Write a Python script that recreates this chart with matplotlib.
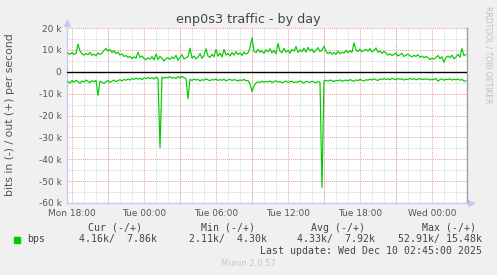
import numpy as np
import matplotlib.pyplot as plt
from matplotlib.ticker import MultipleLocator, FixedLocator

# samples every 10 min, first one at Mon 17:40 (hours since Mon 00:00)
t_start = 17 + 40 / 60.0
t_step = 1 / 6.0

# out (+) in kbit/s
bps_out = [
    8.5, 8.0, 8.8, 7.9, 8.3, 12.6, 9.5, 8.2, 7.6, 8.4,
    7.8, 8.9, 7.5, 8.1, 7.2, 8.6, 7.9, 8.4, 9.8, 10.6,
    9.4, 10.2, 8.7, 9.6, 8.3, 9.0, 7.6, 8.2, 7.0, 7.4,
    6.5, 7.1, 6.0, 6.8, 6.2, 9.0, 6.6, 7.2, 6.0, 5.5,
    6.3, 5.8, 6.9, 5.4, 8.0, 5.6, 7.0, 6.2, 5.0, 5.9,
    6.4, 5.6, 6.8, 6.0, 7.5, 5.3, 6.5, 7.8, 5.8, 6.4,
    6.8, 10.8, 6.2, 7.2, 5.9, 6.6, 8.3, 6.1, 7.4, 10.5,
    7.2, 6.5, 8.0, 6.8, 10.3, 7.1, 8.5, 6.7, 10.2, 7.6,
    8.4, 7.2, 8.8, 7.6, 9.2, 7.9, 8.6, 7.4, 9.0, 8.1,
    8.6, 11.0, 15.48, 9.4, 8.7, 10.2, 8.9, 9.6, 8.4, 10.0,
    9.1, 10.5, 8.6, 9.8, 8.2, 13.0, 9.3, 8.7, 10.6, 9.0,
    9.8, 8.5, 10.2, 9.4, 11.5, 8.8, 10.0, 9.2, 10.8, 8.9,
    11.2, 9.5, 10.4, 8.8, 9.9, 11.0, 9.3, 9.8, 11.6, 9.4,
    8.3, 9.1, 8.0, 8.8, 7.9, 9.4, 8.2, 9.0, 8.5, 9.8,
    8.7, 9.6, 8.9, 13.2, 10.0, 9.2, 10.4, 9.1, 9.8, 10.2,
    9.4, 10.6, 9.0, 9.7, 10.9, 8.8, 9.5, 8.4, 9.3, 8.6,
    7.6, 8.2, 7.4, 7.9, 8.6, 7.2, 7.8, 8.4, 7.0, 7.6,
    8.1, 7.3, 6.8, 7.5, 7.0, 7.8, 6.6, 7.2, 6.4, 7.0,
    6.5, 5.6, 6.2, 5.8, 6.6, 7.4, 6.0, 6.8, 4.3, 6.5,
    7.2, 6.4, 7.6, 5.9, 6.7, 8.0, 6.6, 10.6, 7.4, 7.86,
]

# in (-) in kbit/s, drawn below zero
bps_in = [
    4.5, 5.2, 4.0, 4.8, 3.9, 4.6, 5.3, 4.2, 4.7, 3.8,
    4.4, 5.0, 4.1, 4.6, 3.9, 10.8, 4.3, 4.8, 5.4, 4.6,
    4.0, 4.9, 4.3, 3.8, 4.5, 4.1, 3.6, 4.2, 3.5, 3.9,
    3.3, 3.8, 3.1, 3.5, 2.9, 3.4, 3.0, 3.6, 2.8, 3.2,
    2.6, 3.1, 2.7, 3.3, 2.5, 2.9, 34.7, 2.4, 3.0, 2.5,
    2.8, 2.3, 2.9, 2.6, 3.1, 2.2, 2.8, 2.11, 2.7, 3.2,
    12.3, 3.4, 4.0, 3.3, 3.8, 3.5, 4.2, 3.6, 3.9, 3.2,
    3.7, 4.1, 3.5, 3.8, 3.3, 4.0, 3.6, 3.9, 3.4, 4.2,
    3.7, 3.5, 4.0, 3.6, 3.8, 4.3, 3.7, 4.0, 3.5, 4.1,
    4.0, 5.5, 9.0, 6.5, 5.2, 4.6, 4.9, 4.3, 4.8, 4.4,
    4.7, 4.2, 5.0, 4.5, 4.1, 4.8, 4.4, 5.1, 4.6, 4.2,
    4.9, 4.5, 4.3, 5.0, 4.6, 4.8, 4.2, 4.7, 5.2, 4.4,
    4.6, 4.9, 4.3, 4.7, 5.0, 4.5, 4.8, 52.91, 4.2, 3.9,
    4.3, 3.8, 4.1, 4.5, 3.9, 4.2, 3.7, 4.4, 4.0, 3.8,
    4.2, 3.6, 4.0, 4.4, 3.7, 4.1, 3.5, 3.9, 4.3, 3.6,
    3.9, 3.4, 3.8, 3.2, 3.7, 4.0, 3.3, 3.6, 3.1, 3.5,
    3.2, 3.7, 3.0, 3.4, 3.6, 3.1, 3.5, 3.2, 3.8, 3.3,
    3.6, 3.0, 3.5, 3.2, 3.7, 3.4, 3.1, 3.6, 3.3, 3.5,
    3.2, 3.8, 3.4, 3.6, 3.1, 4.4, 3.5, 3.3, 3.9, 3.4,
    3.6, 3.2, 3.8, 3.4, 3.7, 3.3, 3.9, 3.5, 4.3, 4.16,
]

xtick_hours = [18, 24, 30, 36, 42, 48]
xtick_labels = ["Mon 18:00", "Tue 00:00", "Tue 06:00", "Tue 12:00", "Tue 18:00", "Wed 00:00"]
ytick_vals = [20, 10, 0, -10, -20, -30, -40, -50, -60]

headers = ["Cur (-/+)", "Min (-/+)", "Avg (-/+)", "Max (-/+)"]
values = ["4.16k/  7.86k", "2.11k/  4.30k", "4.33k/  7.92k", "52.91k/ 15.48k"]

t = t_start + t_step * np.arange(len(bps_out))
out_arr = np.array(bps_out)
in_arr = -np.array(bps_in)

W, H = 497, 275
fig = plt.figure(figsize=(W / 100, H / 100), dpi=100, facecolor="#F0F0F0")
ax = fig.add_axes([67 / W, (H - 203) / H, 400 / W, 175 / H])
ax.set_facecolor("white")

green = "#00CC00"
ax.plot(t, out_arr, color=green, lw=0.85, zorder=3)
ax.plot(t, in_arr, color=green, lw=0.85, zorder=3)
ax.axhline(0, color="black", lw=1.0, zorder=4)

ax.set_xlim(17 + 35 / 60.0, 17 + 35 / 60.0 + 400 / 12.0)
ax.set_ylim(-60, 20)

# grid: red dotted majors, grey dotted minors
ax.xaxis.set_major_locator(FixedLocator(xtick_hours))
ax.set_xticklabels(xtick_labels)
ax.set_yticks(ytick_vals)
ax.set_yticklabels([("%d k" % v) if v != 0 else "0" for v in ytick_vals])
ax.xaxis.set_minor_locator(MultipleLocator(1))
ax.yaxis.set_minor_locator(MultipleLocator(5))
ax.grid(True, which="minor", color="#CFCFCF", lw=0.6, ls=(0, (1, 1)), zorder=0)
for h in np.arange(15, 54, 3):
    ax.axvline(h, color="#E8A0A0", lw=0.7, ls=(0, (1, 1)), zorder=1)
for v in ytick_vals:
    if v != 0:
        ax.axhline(v, color="#E8A0A0", lw=0.7, ls=(0, (1, 1)), zorder=1)
ax.set_axisbelow(True)

ax.tick_params(which="both", length=0, labelsize=6.5, labelcolor="#555555", pad=4)

ax.spines["top"].set_visible(False)
ax.spines["left"].set_color("#C8C8F0")
ax.spines["bottom"].set_color("#C8C8F0")
ax.spines["right"].set_color("#A0A0A0")
for s in ["left", "bottom", "right"]:
    ax.spines[s].set_linewidth(1.0)

# axis arrows
ax.annotate("", xy=(0, 1.04), xytext=(0, 1.0), xycoords="axes fraction",
            arrowprops=dict(arrowstyle="-", color="#C8C8F0", lw=1.0))
ax.plot([0], [1.03], marker="^", color="#C8C8F0", ms=4, transform=ax.transAxes, clip_on=False)
ax.plot([1.01], [0], marker=">", color="#C8C8F0", ms=4, transform=ax.transAxes, clip_on=False)

fig.text(0.5, 1 - 19 / H, "enp0s3 traffic - by day", ha="center", va="center",
         fontsize=9.2, color="#444444")
fig.text(10 / W, 1 - 115 / H, "bits in (-) / out (+) per second", rotation=90,
         ha="center", va="center", fontsize=7.8, color="#555555")
fig.text(488 / W, 1 - 55 / H, "RRDTOOL / TOBI OETIKER", rotation=270,
         ha="center", va="center", fontsize=5.5, color="#C0C0C0")

mono = "DejaVu Sans Mono"
fs = 7.1
head_right = [142, 255, 365, 476]
val_right = [157, 267, 375, 482]
for hx, txt in zip(head_right, headers):
    fig.text(hx / W, 1 - 228 / H, txt, ha="right", va="center", family=mono, fontsize=fs, color="#444444")
for vx, txt in zip(val_right, values):
    fig.text(vx / W, 1 - 239 / H, txt, ha="right", va="center", family=mono, fontsize=fs, color="#444444")
fig.patches.append(plt.Rectangle((14 / W, 1 - 242.5 / H), 5.5 / W, 5.5 / H, color=green,
                                 transform=fig.transFigure, figure=fig))
fig.text(27 / W, 1 - 239 / H, "bps", ha="left", va="center", family=mono, fontsize=fs, color="#444444")
fig.text(482 / W, 1 - 251 / H, "Last update: Wed Dec 10 02:45:00 2025", ha="right", va="center",
         family=mono, fontsize=fs, color="#444444")
fig.text(248 / W, 1 - 264 / H, "Munin 2.0.57", ha="center", va="center", fontsize=6,
         color="#C8C8C8")

fig.savefig("out.png", dpi=100, facecolor=fig.get_facecolor())
